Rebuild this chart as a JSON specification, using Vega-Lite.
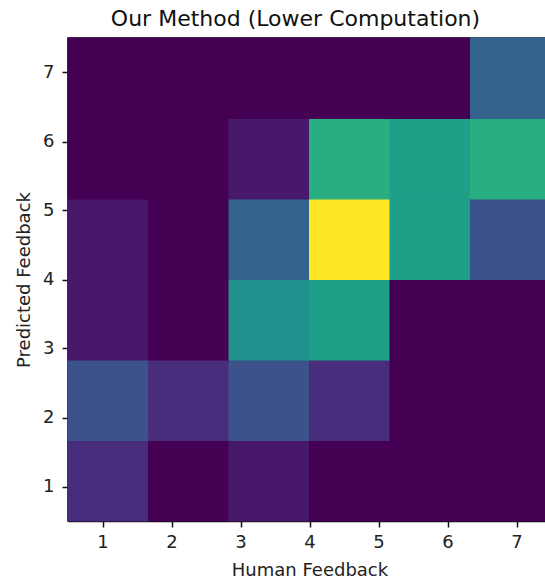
{
  "$schema": "https://vega.github.io/schema/vega-lite/v6.json",
  "autosize": "none",
  "width": 483,
  "height": 483,
  "padding": {"left": 68, "top": 38, "right": 0, "bottom": 58},
  "background": "white",
  "title": {
    "text": "Our Method (Lower Computation)",
    "font": "DejaVu Sans",
    "fontSize": 22,
    "fontWeight": "normal",
    "color": "#111111",
    "anchor": "middle",
    "dx": -14,
    "offset": 7
  },
  "config": {
    "view": {"stroke": "#111111", "strokeWidth": 1.5},
    "axis": {
      "labelFont": "DejaVu Sans",
      "labelFontSize": 18,
      "labelColor": "#222222",
      "titleFont": "DejaVu Sans",
      "titleFontSize": 18,
      "titleFontWeight": "normal",
      "titleColor": "#222222",
      "tickColor": "#111111",
      "tickSize": 6,
      "tickWidth": 1.5,
      "domainColor": "#111111",
      "domainWidth": 1.5,
      "grid": false
    }
  },
  "data": {
    "values": [
      {"h0": 0.5, "h1": 1.6667, "p0": 0.5, "p1": 1.6667, "count": 2},
      {"h0": 1.6667, "h1": 2.8333, "p0": 0.5, "p1": 1.6667, "count": 0},
      {"h0": 2.8333, "h1": 4.0, "p0": 0.5, "p1": 1.6667, "count": 1},
      {"h0": 4.0, "h1": 5.1667, "p0": 0.5, "p1": 1.6667, "count": 0},
      {"h0": 5.1667, "h1": 6.3333, "p0": 0.5, "p1": 1.6667, "count": 0},
      {"h0": 6.3333, "h1": 7.5, "p0": 0.5, "p1": 1.6667, "count": 0},
      {"h0": 0.5, "h1": 1.6667, "p0": 1.6667, "p1": 2.8333, "count": 4},
      {"h0": 1.6667, "h1": 2.8333, "p0": 1.6667, "p1": 2.8333, "count": 2},
      {"h0": 2.8333, "h1": 4.0, "p0": 1.6667, "p1": 2.8333, "count": 4},
      {"h0": 4.0, "h1": 5.1667, "p0": 1.6667, "p1": 2.8333, "count": 2},
      {"h0": 5.1667, "h1": 6.3333, "p0": 1.6667, "p1": 2.8333, "count": 0},
      {"h0": 6.3333, "h1": 7.5, "p0": 1.6667, "p1": 2.8333, "count": 0},
      {"h0": 0.5, "h1": 1.6667, "p0": 2.8333, "p1": 4.0, "count": 1},
      {"h0": 1.6667, "h1": 2.8333, "p0": 2.8333, "p1": 4.0, "count": 0},
      {"h0": 2.8333, "h1": 4.0, "p0": 2.8333, "p1": 4.0, "count": 8},
      {"h0": 4.0, "h1": 5.1667, "p0": 2.8333, "p1": 4.0, "count": 9},
      {"h0": 5.1667, "h1": 6.3333, "p0": 2.8333, "p1": 4.0, "count": 0},
      {"h0": 6.3333, "h1": 7.5, "p0": 2.8333, "p1": 4.0, "count": 0},
      {"h0": 0.5, "h1": 1.6667, "p0": 4.0, "p1": 5.1667, "count": 1},
      {"h0": 1.6667, "h1": 2.8333, "p0": 4.0, "p1": 5.1667, "count": 0},
      {"h0": 2.8333, "h1": 4.0, "p0": 4.0, "p1": 5.1667, "count": 5},
      {"h0": 4.0, "h1": 5.1667, "p0": 4.0, "p1": 5.1667, "count": 16},
      {"h0": 5.1667, "h1": 6.3333, "p0": 4.0, "p1": 5.1667, "count": 9},
      {"h0": 6.3333, "h1": 7.5, "p0": 4.0, "p1": 5.1667, "count": 4},
      {"h0": 0.5, "h1": 1.6667, "p0": 5.1667, "p1": 6.3333, "count": 0},
      {"h0": 1.6667, "h1": 2.8333, "p0": 5.1667, "p1": 6.3333, "count": 0},
      {"h0": 2.8333, "h1": 4.0, "p0": 5.1667, "p1": 6.3333, "count": 1},
      {"h0": 4.0, "h1": 5.1667, "p0": 5.1667, "p1": 6.3333, "count": 10},
      {"h0": 5.1667, "h1": 6.3333, "p0": 5.1667, "p1": 6.3333, "count": 9},
      {"h0": 6.3333, "h1": 7.5, "p0": 5.1667, "p1": 6.3333, "count": 10},
      {"h0": 0.5, "h1": 1.6667, "p0": 6.3333, "p1": 7.5, "count": 0},
      {"h0": 1.6667, "h1": 2.8333, "p0": 6.3333, "p1": 7.5, "count": 0},
      {"h0": 2.8333, "h1": 4.0, "p0": 6.3333, "p1": 7.5, "count": 0},
      {"h0": 4.0, "h1": 5.1667, "p0": 6.3333, "p1": 7.5, "count": 0},
      {"h0": 5.1667, "h1": 6.3333, "p0": 6.3333, "p1": 7.5, "count": 0},
      {"h0": 6.3333, "h1": 7.5, "p0": 6.3333, "p1": 7.5, "count": 5}
    ]
  },
  "mark": {"type": "rect", "strokeWidth": 1},
  "encoding": {
    "x": {
      "field": "h0",
      "type": "quantitative",
      "scale": {"domain": [0.5, 7.5], "nice": false, "zero": false},
      "axis": {"title": "Human Feedback", "values": [1, 2, 3, 4, 5, 6, 7], "labelPadding": 6, "titlePadding": 10, "format": "d"}
    },
    "x2": {"field": "h1"},
    "y": {
      "field": "p0",
      "type": "quantitative",
      "scale": {"domain": [0.5, 7.5], "nice": false, "zero": false},
      "axis": {"title": "Predicted Feedback", "values": [1, 2, 3, 4, 5, 6, 7], "labelPadding": 8, "titlePadding": 9, "format": "d"}
    },
    "y2": {"field": "p1"},
    "color": {
      "field": "count",
      "type": "quantitative",
      "scale": {"scheme": "viridis", "domain": [0, 16]},
      "legend": null
    },
    "stroke": {
      "field": "count",
      "type": "quantitative",
      "scale": {"scheme": "viridis", "domain": [0, 16]},
      "legend": null
    }
  }
}
